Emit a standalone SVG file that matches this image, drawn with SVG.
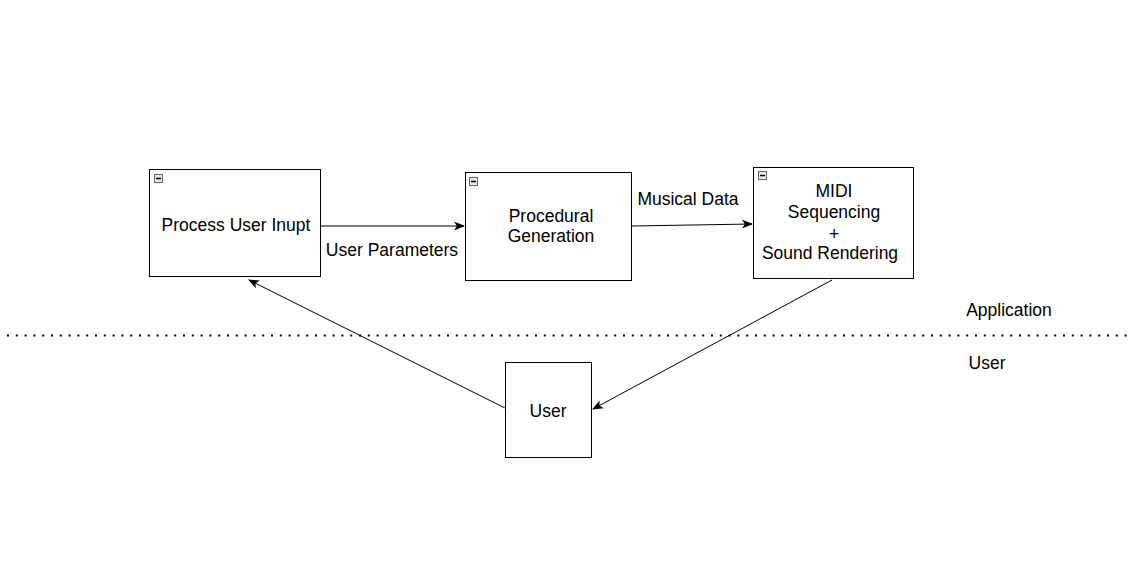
<svg xmlns="http://www.w3.org/2000/svg" width="1139" height="563" viewBox="0 0 1139 563">
<style>
.box{fill:#fff;stroke:#000;stroke-width:1}
.t{font-family:"Liberation Sans",Arial,sans-serif;font-size:17.5px;fill:#000;text-anchor:middle}
.edge{fill:none;stroke:#000;stroke-width:1}
.ic{fill:#e6e6e6;stroke:#666;stroke-width:1}
.icm{stroke:#000;stroke-width:1.5}
</style>
<defs>
<marker id="arr" viewBox="0 0 10 10" refX="9" refY="5" markerWidth="11" markerHeight="11" markerUnits="userSpaceOnUse" orient="auto">
<path d="M0,1 L10,5 L0,9 L2.5,5 Z" fill="#000"/>
</marker>
<g id="icon"><rect class="ic" x="0.5" y="0.5" width="8" height="8"/><line class="icm" x1="2" y1="4.5" x2="7" y2="4.5"/></g>
</defs>
<rect width="1139" height="563" fill="#fff"/>
<line x1="7" y1="335.5" x2="1128" y2="335.5" stroke="#000" stroke-width="2" stroke-dasharray="2 6.8"/>
<text class="t" x="1009" y="316">Application</text>
<text class="t" x="987" y="369">User</text>
<g id="connectors">
<line class="edge" x1="321" y1="226" x2="464" y2="226" marker-end="url(#arr)"/>
<text class="t" x="392" y="256">User Parameters</text>
<line class="edge" x1="632" y1="226" x2="752" y2="224" marker-end="url(#arr)"/>
<text class="t" x="688" y="205">Musical Data</text>
<line class="edge" x1="832" y1="280" x2="593" y2="409" marker-end="url(#arr)"/>
<line class="edge" x1="505" y1="408" x2="249" y2="280" marker-end="url(#arr)"/>
</g>
<g id="node-process">
<rect class="box" x="149.5" y="169.5" width="171" height="107"/>
<use href="#icon" x="154" y="174"/>
<text class="t" x="236" y="231">Process User Inupt</text>
</g>
<g id="node-procedural">
<rect class="box" x="465.5" y="172.5" width="166" height="108"/>
<use href="#icon" x="469" y="177"/>
<text class="t" x="551" y="222">Procedural</text>
<text class="t" x="551" y="242">Generation</text>
</g>
<g id="node-midi">
<rect class="box" x="753.5" y="167.5" width="160" height="111"/>
<use href="#icon" x="758" y="171"/>
<text class="t" x="834" y="197">MIDI</text>
<text class="t" x="834" y="218">Sequencing</text>
<text class="t" x="834" y="240">+</text>
<text class="t" x="830" y="259">Sound Rendering</text>
</g>
<g id="node-user">
<rect class="box" x="505.5" y="362.5" width="86" height="95"/>
<text class="t" x="548" y="417">User</text>
</g>
</svg>
